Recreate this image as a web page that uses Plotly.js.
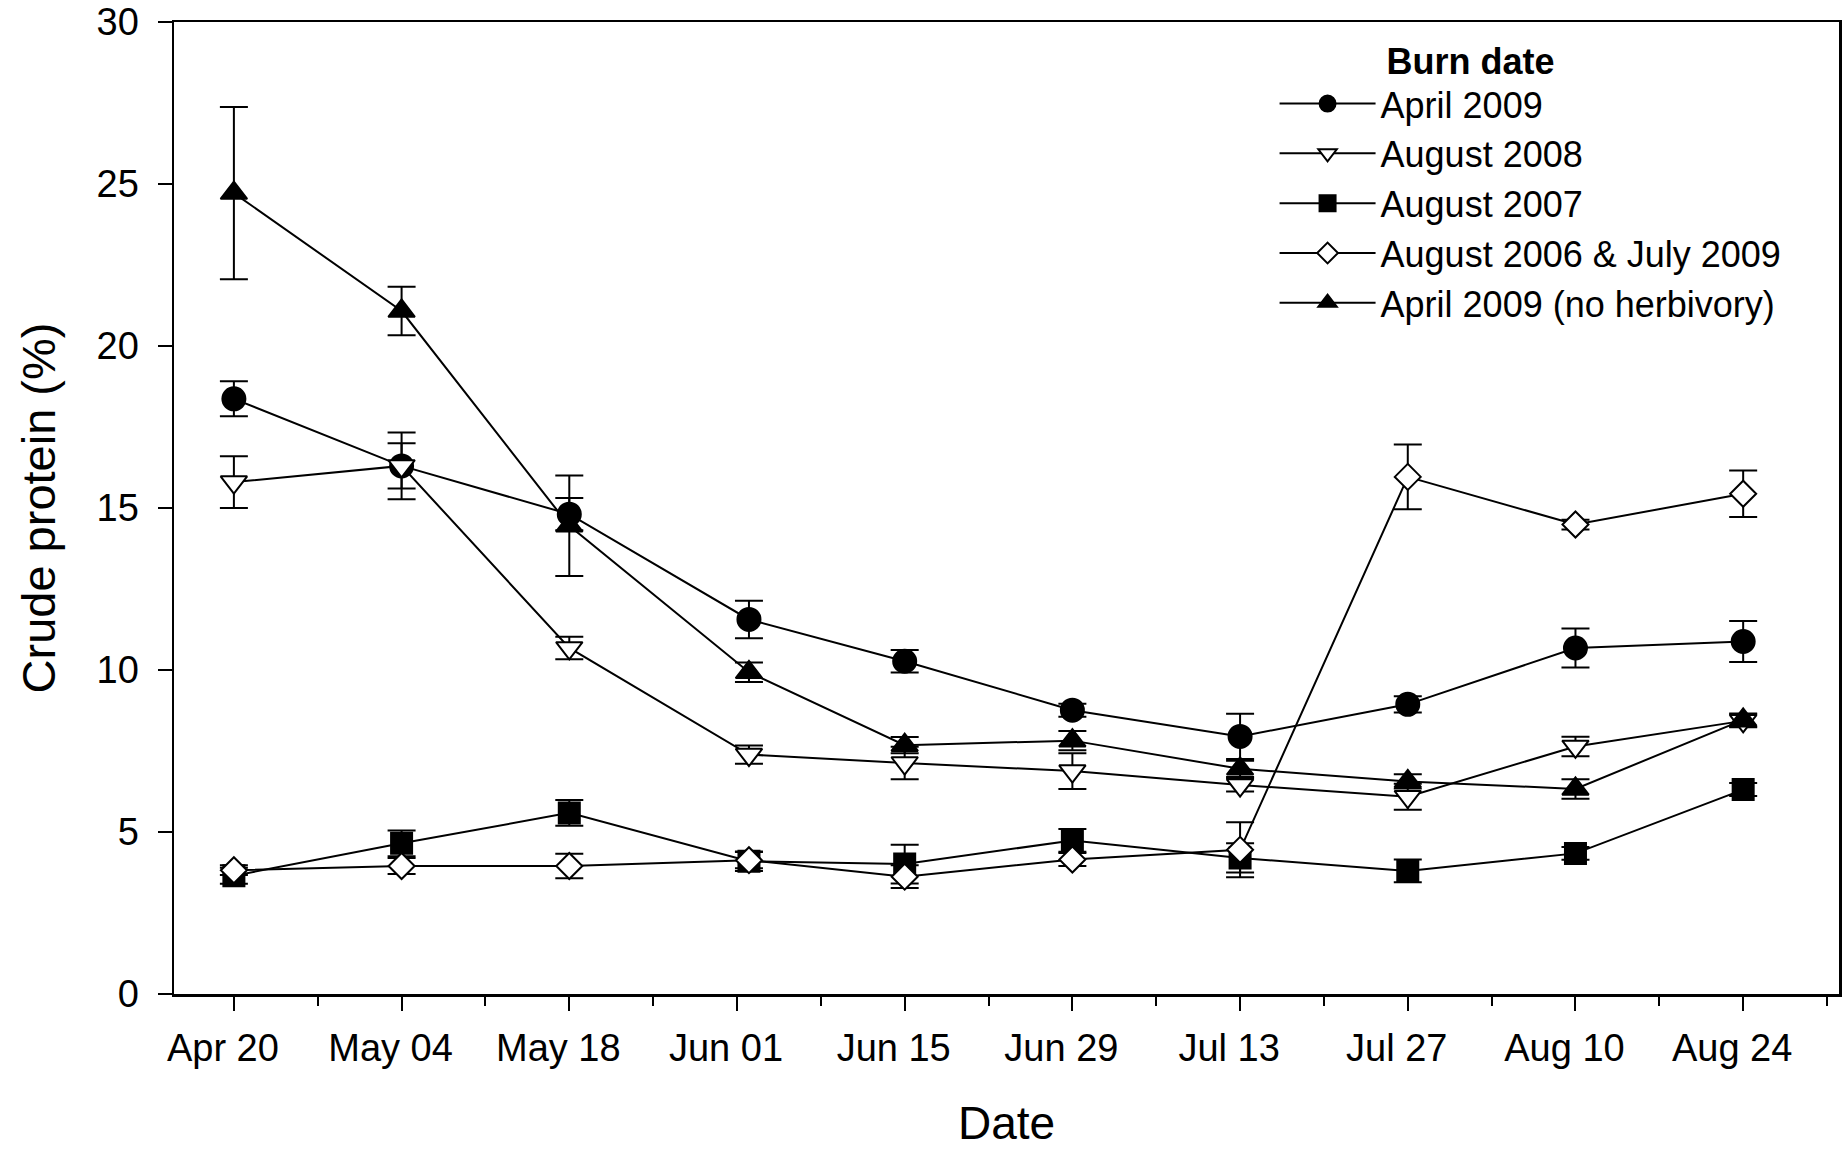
<!DOCTYPE html>
<html>
<head>
<meta charset="utf-8">
<script src="https://cdn.plot.ly/plotly-3.0.1.min.js"></script>
<style>
  html, body { margin: 0; padding: 0; background: #ffffff; }
  #chart { width: 1847px; height: 1149px; }
</style>
</head>
<body>
<div id="chart"></div>
<script>
// Sampling dates (2009)
const dates = ['2009-04-20', '2009-05-04', '2009-05-18', '2009-06-02', '2009-06-15',
               '2009-06-29', '2009-07-13', '2009-07-27', '2009-08-10', '2009-08-24'];

// Series names (burn date)
const seriesNames = ['April 2009', 'August 2008', 'August 2007',
                     'August 2006 & July 2009', 'April 2009 (no herbivory)'];

// Crude protein (%) means
const april2009      = [18.37, 16.30, 14.81, 11.56, 10.27, 8.76, 7.95, 8.94, 10.68, 10.88];
const august2008     = [15.80, 16.30, 10.68, 7.39, 7.13, 6.88, 6.45, 6.09, 7.64, 8.43];
const august2007     = [3.65, 4.65, 5.59, 4.10, 4.01, 4.74, 4.20, 3.80, 4.34, 6.31];
const aug2006jul2009 = [3.82, 3.95, 3.95, 4.13, 3.62, 4.15, 4.45, 15.96, 14.49, 15.44];
const april2009NoHerb = [24.72, 21.08, 14.45, 9.93, 7.68, 7.82, 6.95, 6.56, 6.33, 8.46];

// Standard errors
const april2009Err      = [0.54, 0.70, 0.50, 0.58, 0.35, 0.20, 0.70, 0.25, 0.60, 0.63];
const august2008Err     = [0.80, 1.03, 0.35, 0.28, 0.50, 0.55, 0.20, 0.40, 0.30, 0.20];
const august2007Err     = [0.25, 0.40, 0.40, 0.30, 0.60, 0.35, 0.45, 0.35, 0.20, 0.20];
const aug2006jul2009Err = [0.15, 0.25, 0.38, 0.25, 0.35, 0.20, 0.85, 1.00, 0.15, 0.72];
const april2009NoHerbErr = [2.66, 0.75, 1.55, 0.30, 0.25, 0.30, 0.25, 0.22, 0.30, 0.20];

// Axis tick labels
const yTickVals = [0, 5, 10, 15, 20, 25, 30];

const FONT = '"Liberation Sans", Arial, Helvetica, sans-serif';

function makeTrace(name, y, err, symbol, fill, size) {
  return {
    type: 'scatter',
    mode: 'lines+markers',
    name: name,
    x: dates,
    y: y,
    line: { color: '#000000', width: 2 },
    marker: {
      symbol: symbol,
      size: size,
      color: fill,
      line: { color: '#000000', width: 2 }
    },
    error_y: {
      type: 'data',
      array: err,
      visible: true,
      color: '#000000',
      thickness: 2,
      width: 14
    }
  };
}

const data = [
  makeTrace(seriesNames[0], april2009, april2009Err, 'circle', '#000000', 23),
  makeTrace(seriesNames[1], august2008, august2008Err, 'triangle-down', '#ffffff', 23),
  makeTrace(seriesNames[2], august2007, august2007Err, 'square', '#000000', 21),
  makeTrace(seriesNames[3], aug2006jul2009, aug2006jul2009Err, 'diamond', '#ffffff', 20),
  makeTrace(seriesNames[4], april2009NoHerb, april2009NoHerbErr, 'triangle-up', '#000000', 23)
];

const DAY = 86400000;
const PAD = '\u00a0'.repeat(11);

const layout = {
  width: 1847,
  height: 1149,
  paper_bgcolor: '#ffffff',
  plot_bgcolor: '#ffffff',
  margin: { l: 174, r: 8, t: 22, b: 155, autoexpand: false },
  font: { family: FONT, color: '#000000', size: 38 },
  showlegend: true,
  legend: {
    x: 0.661,
    xanchor: 'left',
    y: 0.995,
    yanchor: 'top',
    bgcolor: 'rgba(0,0,0,0)',
    borderwidth: 0,
    font: { family: FONT, size: 36, color: '#000000' },
    itemwidth: 96,
    title: { text: PAD + '<b>Burn date</b>', font: { family: FONT, size: 36, color: '#000000' } }
  },
  xaxis: {
    type: 'date',
    range: ['2009-04-15', '2009-09-01'],
    tick0: '2009-04-20',
    dtick: 14 * DAY,
    tickformat: '%b %d',
    ticks: 'outside',
    ticklen: 14,
    tickwidth: 2,
    tickcolor: '#000000',
    ticklabelstandoff: 5,
    ticklabelshift: -11,
    tickfont: { family: FONT, size: 38, color: '#000000' },
    minor: {
      ticks: 'outside',
      tick0: '2009-04-13',
      dtick: 7 * DAY,
      ticklen: 9,
      tickwidth: 2,
      tickcolor: '#000000',
      showgrid: false
    },
    showline: true,
    linecolor: '#000000',
    linewidth: 2.5,
    mirror: true,
    showgrid: false,
    zeroline: false,
    title: { text: 'Date', font: { family: FONT, size: 46, color: '#000000' }, standoff: 55 }
  },
  yaxis: {
    range: [0, 30],
    tickvals: yTickVals,
    ticktext: yTickVals.map(String),
    ticks: 'outside',
    ticklen: 14,
    tickwidth: 2,
    tickcolor: '#000000',
    ticklabelstandoff: 11,
    tickfont: { family: FONT, size: 38, color: '#000000' },
    showline: true,
    linecolor: '#000000',
    linewidth: 2.5,
    mirror: true,
    showgrid: false,
    zeroline: false,
    title: { text: 'Crude protein (%)', font: { family: FONT, size: 47, color: '#000000' }, standoff: 26 }
  }
};

Plotly.newPlot('chart', data, layout, { displayModeBar: false, staticPlot: true });
</script>
</body>
</html>
